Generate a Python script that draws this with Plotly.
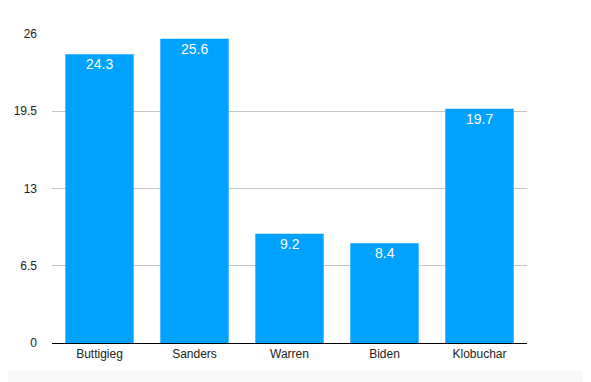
import plotly.graph_objects as go

candidates = ["Buttigieg", "Sanders", "Warren", "Biden", "Klobuchar"]
values = [24.3, 25.6, 9.2, 8.4, 19.7]
y_ticks = [0, 6.5, 13, 19.5, 26]
y_tick_labels = ["0", "6.5", "13", "19.5", "26"]

bar_color = "#00A2FF"

fig = go.Figure()
fig.add_trace(go.Bar(
    x=candidates, y=values,
    marker=dict(color=bar_color, line=dict(width=0)),
    hoverinfo="x+y",
))

for c, v in zip(candidates, values):
    fig.add_annotation(x=c, y=v, text=f"{v}", showarrow=False,
                       yanchor="top", yshift=0,
                       font=dict(color="white", size=14, family="Liberation Sans, Arial, sans-serif"))

# faint bottom band
fig.add_shape(type="rect", xref="paper", yref="paper", x0=-0.5, x1=1.5,
              y0=-0.2, y1=-0.09, fillcolor="#f8f8f8", line=dict(width=0), layer="below")

fig.update_layout(
    width=583, height=375,
    margin=dict(l=44, r=64, t=26, b=40, autoexpand=False),
    paper_bgcolor="white", plot_bgcolor="white",
    bargap=0.28,
    showlegend=False,
    font=dict(family="Liberation Sans, Arial, sans-serif", size=12, color="#222"),
    xaxis=dict(showgrid=False, showline=True, linecolor="black", linewidth=1,
               ticks="", tickfont=dict(size=12, color="#222"), fixedrange=True,
               automargin=False),
    yaxis=dict(range=[0, 26], tickvals=y_ticks, ticktext=y_tick_labels,
               showgrid=True, gridcolor="#c4c4c4", gridwidth=1,
               zeroline=False, showline=False, ticks="",
               ticklabelstandoff=14, tickfont=dict(size=12, color="#222"),
               fixedrange=True, automargin=False),
)

fig.write_html("out.html")
